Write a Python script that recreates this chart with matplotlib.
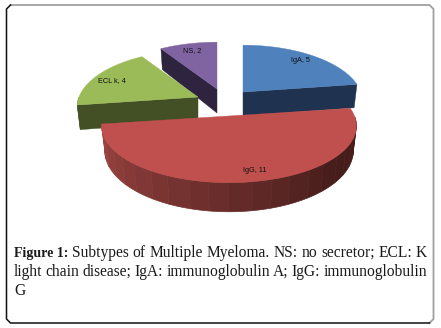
#! /usr/bin/python3

import numpy as np
import matplotlib
matplotlib.use("Agg")
import matplotlib.pyplot as plt
from matplotlib.patches import Polygon

# chart data
labels = ["IgA", "IgG", "ECL k", "NS"]
values = [5, 11, 4, 2]
top_colors = ["#4f81bd", "#c0504d", "#9bbb59", "#8064a2"]
side_colors = ["#1f3350", "#7a3030", "#434f24", "#2f2440"]

caption_bold = "Figure 1:"
caption_lines = [
    "Subtypes of Multiple Myeloma. NS: no secretor; ECL: K",
    "light chain disease; IgA: immunoglobulin A; IgG: immunoglobulin",
    "G",
]

# layout of the exploded slices, in pixels
apex = {"IgA": (243, 92), "IgG": (229, 116), "ECL k": (198, 97), "NS": (217, 89)}
radius_x = {"IgA": 118, "IgG": 125.5, "ECL k": 119, "NS": 119}
label_pos = {"IgA": (300, 61), "IgG": (255, 171), "ECL k": (112, 81), "NS": (192, 51)}
RY = 55
DEPTH = 24
PERSP = 0.175
SHRINK = 0.975


def project(name, theta):
    # theta is clockwise from the top of the pie
    ax_, ay = apex[name]
    u, v = np.sin(theta), -np.cos(theta)
    s = 1 / (1 - PERSP * v)
    return ax_ + radius_x[name] * u * s, ay + RY * v * s, s


def lower(name, x, y, s):
    return apex[name][0] + (x - apex[name][0]) * SHRINK, y + DEPTH * s


def draw_slice(ax, name, t0, t1, top, side):
    th = np.linspace(t0, t1, 120)
    x, y, s = project(name, th)
    xl, yl = lower(name, x, y, s)

    # outer wall, only the part facing the viewer
    front = np.where(-np.cos(th) > 0)[0]
    if len(front) > 1:
        if name == "IgG":
            # banded shading like the source chart
            edges = np.linspace(front[0], front[-1], 22).astype(int)
            for i in range(len(edges) - 1):
                a, b = edges[i], edges[i + 1] + 1
                f = (th[a] - th[front[0]]) / (th[front[-1]] - th[front[0]])
                c = np.array([0x46, 0x1d, 0x1b]) + min(1, max(0, (f - 0.22) / 0.78)) * np.array([0x5c, 0x2a, 0x29])
                col = tuple(c / 255)
                pts = np.r_[np.c_[x[a:b], y[a:b]], np.c_[xl[a:b], yl[a:b]][::-1]]
                ax.add_patch(Polygon(pts, fc=col, ec=col, lw=0.5))
        else:
            pts = np.r_[np.c_[x[front], y[front]], np.c_[xl[front], yl[front]][::-1]]
            ax.add_patch(Polygon(pts, fc=side, ec=side, lw=0.3))

    # cut faces towards the viewer
    ax0, ay0 = apex[name]
    for t, sign in ((t0, -1), (t1, 1)):
        if sign * np.sin(t) > 1e-6:
            xe, ye, se = project(name, t)
            xle, yle = lower(name, xe, ye, se)
            ax.add_patch(Polygon([(ax0, ay0), (xe, ye), (xle, yle), (ax0, ay0 + DEPTH)],
                                 fc=side, ec=side, lw=0.3))

    ax.add_patch(Polygon(np.r_[[(ax0, ay0)], np.c_[x, y]], fc=top, ec=top, lw=0.3))


def draw_caption(fig, ax):
    fig.canvas.draw()
    r = fig.canvas.get_renderer()
    left, right = 14, 427
    baselines = [257, 276, 295]
    for n, line in enumerate(caption_lines):
        pieces = [(w, "normal", 11.2) for w in line.split(" ")]
        if n == 0:
            pieces = [(caption_bold, "bold", 10.0)] + pieces
        items = []
        for w, weight, size in pieces:
            items.append(ax.text(0, baselines[n], w, family="Liberation Serif", fontsize=size,
                                 weight=weight, color="#1a1a1a", va="baseline", ha="left"))
        widths = [t.get_window_extent(r).width for t in items]
        gap = (right - left - sum(widths)) / (len(items) - 1) if n < 2 else 0
        pos = left
        for t, w in zip(items, widths):
            t.set_x(pos)
            pos += w + gap


def draw_frame(ax):
    # the box is lit from the top right: grey there, black left and bottom
    x0, x1, y0, y1, c = 6.5, 433.5, 5, 323, 4
    ax.plot([x0 + c, x1 - c, x1, x1, x1 - c], [y0, y0, y0 + c, y1 - c, y1],
            color="#a0a0a0", lw=1.3, solid_joinstyle="round")
    ax.plot([x0 + c, x0, x0, x0 + c, x1 - c], [y0, y0 + c, y1 - c, y1, y1],
            color="#111111", lw=1.1, solid_joinstyle="round")


fig = plt.figure(figsize=(4.41, 3.28), dpi=100)
ax = fig.add_axes([0, 0, 1, 1])
ax.set_xlim(0, 441)
ax.set_ylim(328, 0)
ax.axis("off")

draw_frame(ax)

total = sum(values)
ends = np.cumsum(values) / total * 2 * np.pi
starts = np.r_[0, ends[:-1]]
for i in [3, 0, 2, 1]:
    draw_slice(ax, labels[i], starts[i], ends[i], top_colors[i], side_colors[i])
    ax.text(*label_pos[labels[i]], f"{labels[i]}, {values[i]}", family="Liberation Sans",
            fontsize=5.3, color="#111111", ha="center", va="center")

draw_caption(fig, ax)

fig.savefig("out.png", dpi=100)
